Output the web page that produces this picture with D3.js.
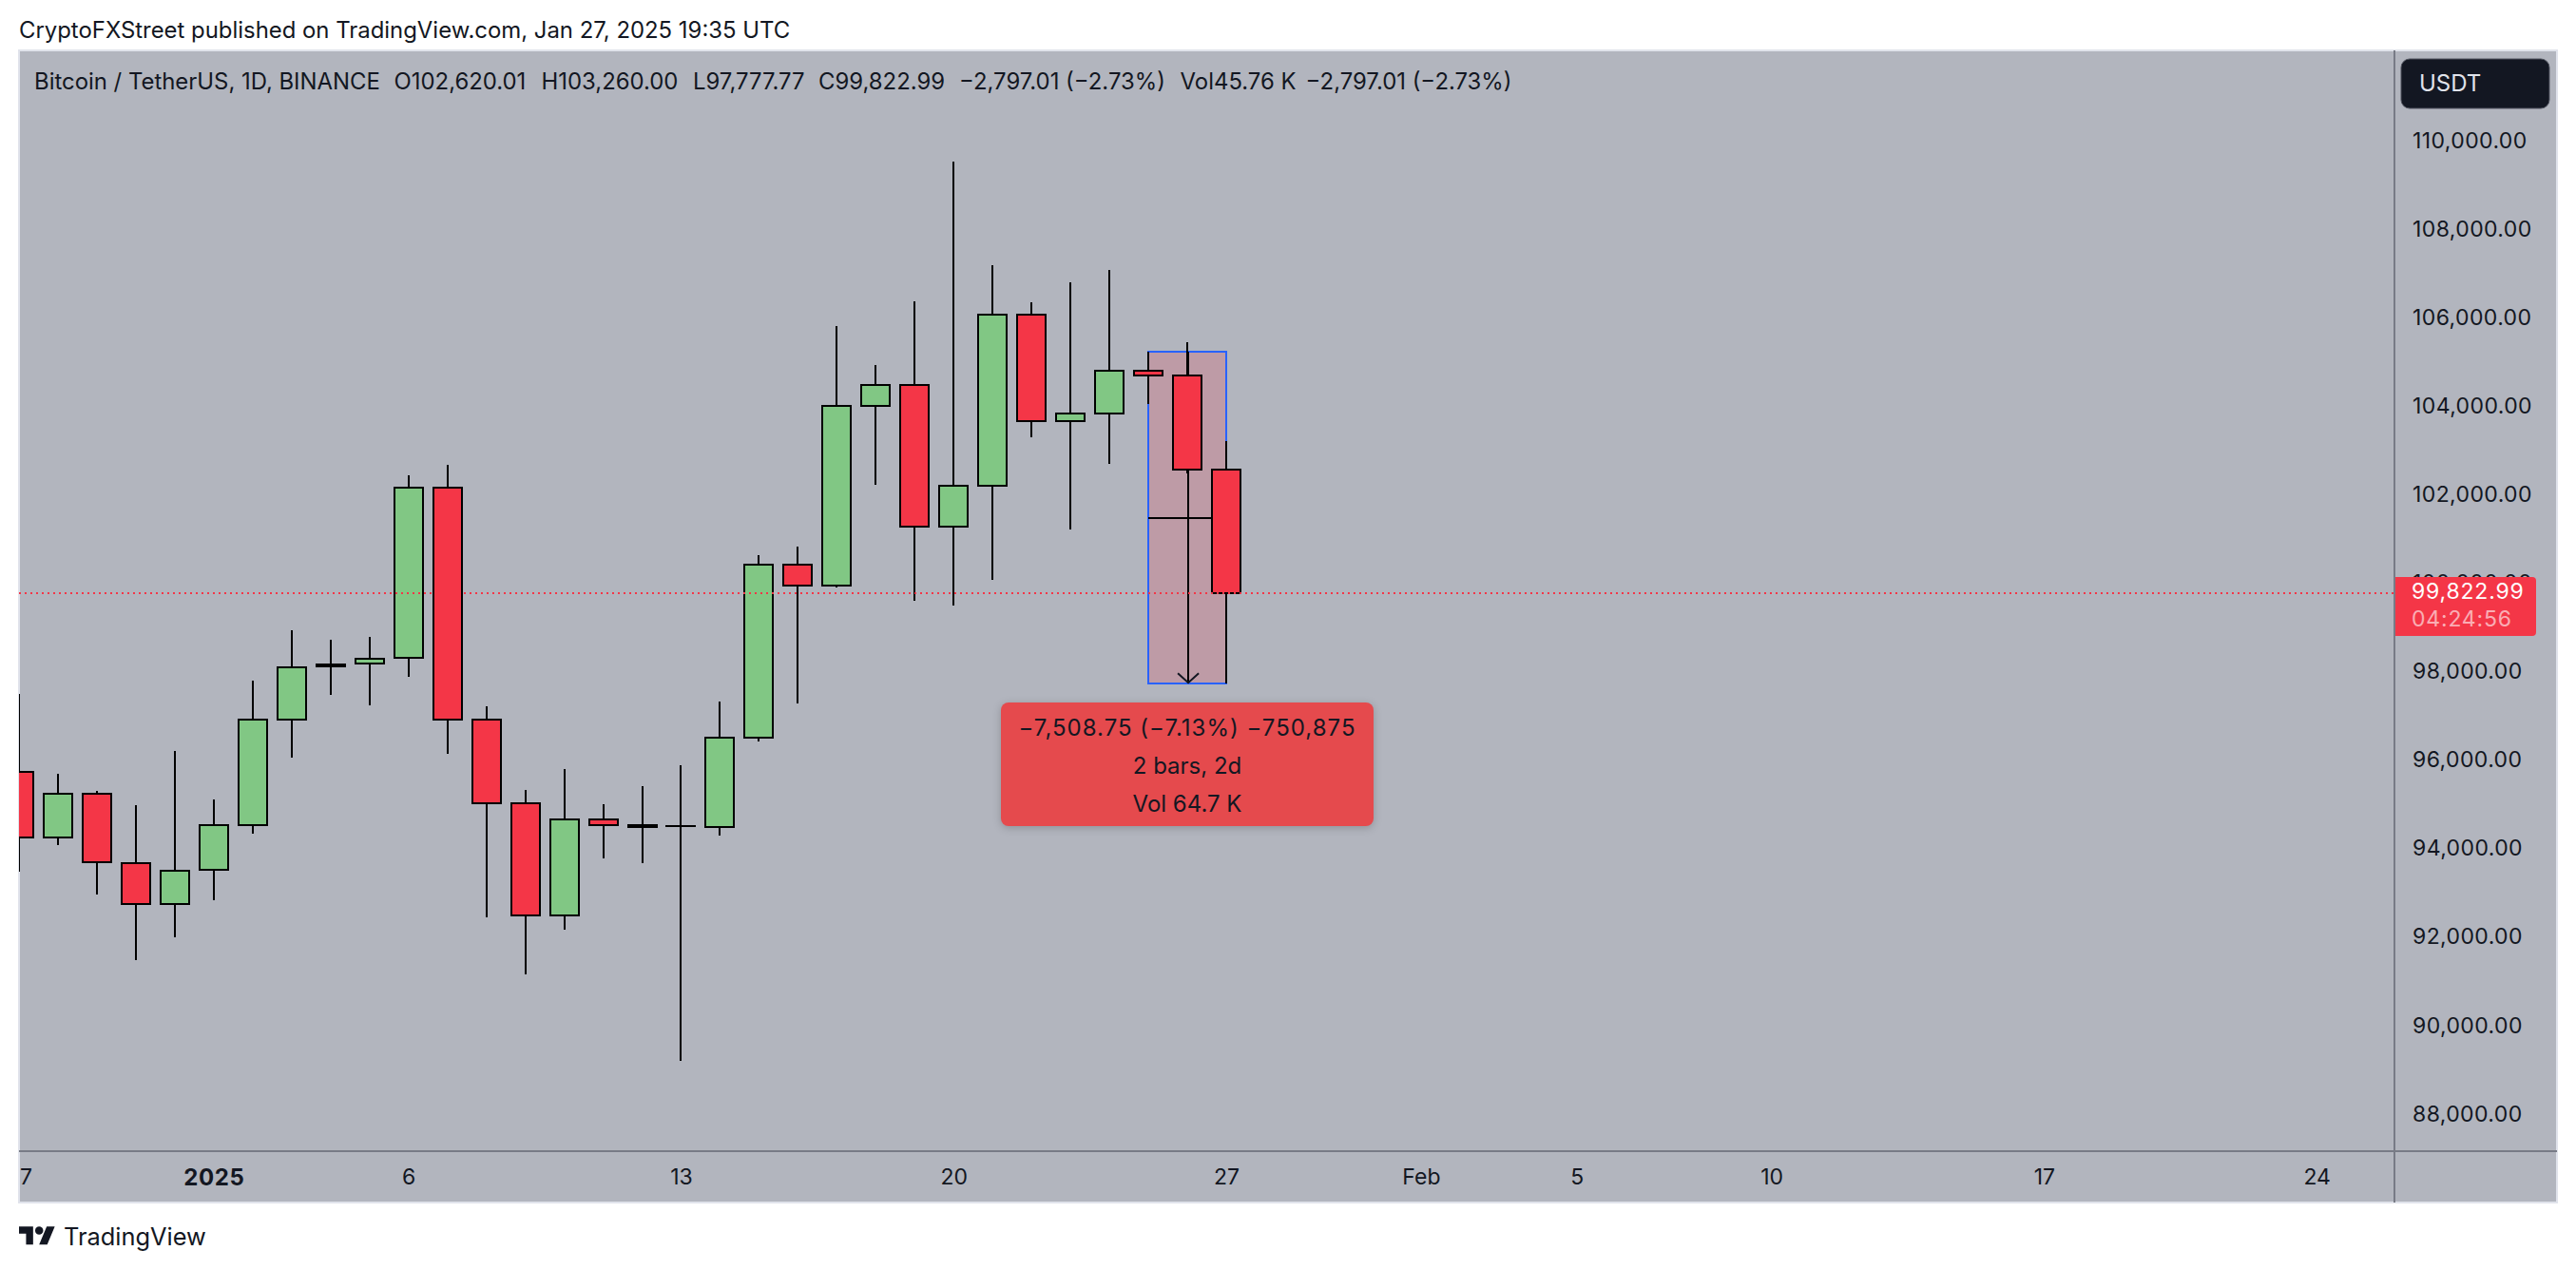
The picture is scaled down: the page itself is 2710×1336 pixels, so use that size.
<!DOCTYPE html>
<html lang="en">

<head>
    <meta charset="UTF-8">
    <title>Bitcoin / TetherUS, 1D, BINANCE</title>
    <script src="https://d3js.org/d3.v7.min.js"></script>
    <style>
        body { margin: 0; background: #fff; }
        svg { display: block; }
        text { font-family: Inter, "Noto Sans", sans-serif; fill: #131722; }
    </style>
</head>

<body>
    <div id="plot-container"></div>

    <script>
        // date, open, high, low, close
        const rows = [
            ["2024-12-27", 95791, 97547, 93528, 94302],
            ["2024-12-28", 94302, 95741, 94136, 95290],
            ["2024-12-29", 95290, 95355, 93019, 93743],
            ["2024-12-30", 93728, 95032, 91536, 92791],
            ["2024-12-31", 92791, 96257, 92052, 93556],
            ["2025-01-01", 93565, 95161, 92890, 94587],
            ["2025-01-02", 94587, 97847, 94394, 96973],
            ["2025-01-03", 96973, 98986, 96113, 98155],
            ["2025-01-04", 98180, 98771, 97531, 98202],
            ["2025-01-05", 98228, 98836, 97295, 98348],
            ["2025-01-06", 98363, 102489, 97940, 102216],
            ["2025-01-07", 102216, 102726, 96199, 96966],
            ["2025-01-08", 96966, 97267, 92503, 95069],
            ["2025-01-09", 95069, 95376, 91207, 92546],
            ["2025-01-10", 92546, 95849, 92223, 94716],
            ["2025-01-11", 94716, 95054, 93835, 94587],
            ["2025-01-12", 94545, 95462, 93728, 94570],
            ["2025-01-13", 94559, 95935, 89258, 94559],
            ["2025-01-14", 94538, 97375, 94351, 96550],
            ["2025-01-15", 96550, 100684, 96480, 100469],
            ["2025-01-16", 100469, 100877, 97338, 99996],
            ["2025-01-17", 99996, 105863, 99950, 104064],
            ["2025-01-18", 104064, 104982, 102274, 104531],
            ["2025-01-19", 104531, 106422, 99659, 101322],
            ["2025-01-20", 101322, 109581, 99552, 102242],
            ["2025-01-21", 102242, 107238, 100132, 106127],
            ["2025-01-22", 106127, 106400, 103349, 103714],
            ["2025-01-23", 103714, 106852, 101271, 103893],
            ["2025-01-24", 103893, 107131, 102753, 104860],
            ["2025-01-25", 104860, 105283, 104101, 104746],
            ["2025-01-26", 104746, 105498, 102539, 102620],
            ["2025-01-27", 102620.01, 103260, 97777.77, 99822.99]
        ];
        const candles = rows.map(r => ({ date: new Date(r[0] + "T00:00:00Z"), open: r[1], high: r[2], low: r[3], close: r[4] }));

        const lastPrice = 99822.99;
        const measure = { from: new Date("2025-01-25T00:00:00Z"), to: new Date("2025-01-27T00:00:00Z"), high: 105286.52, low: 97777.77 };

        const dayTicks = [
            ["2024-12-27", "27"], ["2025-01-01", "2025"], ["2025-01-06", "6"], ["2025-01-13", "13"],
            ["2025-01-20", "20"], ["2025-01-27", "27"], ["2025-02-01", "Feb"], ["2025-02-05", "5"],
            ["2025-02-10", "10"], ["2025-02-17", "17"], ["2025-02-24", "24"]
        ].map(d => ({ date: new Date(d[0] + "T00:00:00Z"), label: d[1] }));

        const panelL = 20, panelR = 2690, panelT = 53, panelB = 1265, axisX = 2519, axisY = 1211;

        const x = d3.scaleUtc()
            .domain([new Date("2024-12-27T00:00:00Z"), new Date("2025-02-24T00:00:00Z")])
            .range([20, 2437.2]);
        const y = d3.scaleLinear().domain([110000, 88000]).range([150.5, 1174.2]);

        const svg = d3.select("#plot-container").append("svg")
            .attr("width", 2710).attr("height", 1336);

        // panel background
        svg.append("rect").attr("x", panelL).attr("y", panelT)
            .attr("width", panelR - panelL).attr("height", panelB - panelT)
            .attr("fill", "#b2b5be").attr("stroke", "#e0e3eb").attr("stroke-width", 2);

        const defs = svg.append("defs");
        defs.append("clipPath").attr("id", "plotClip").append("rect")
            .attr("x", panelL).attr("y", panelT).attr("width", axisX - panelL).attr("height", axisY - panelT);
        defs.append("clipPath").attr("id", "timeClip").append("rect")
            .attr("x", panelL).attr("y", axisY).attr("width", axisX - panelL).attr("height", panelB - axisY);

        // header + legend
        svg.append("text").attr("x", 20).attr("y", 40).attr("font-size", 23.9).text("CryptoFXStreet published on TradingView.com, Jan 27, 2025 19:35 UTC");
        const legend = [
            [36, "Bitcoin / TetherUS, 1D, BINANCE"], [414.5, "O102,620.01"], [569.5, "H103,260.00"], [729, "L97,777.77"],
            [861, "C99,822.99"], [1009, "−2,797.01 (−2.73%)"], [1241.6, "Vol45.76 K"], [1373.6, "−2,797.01 (−2.73%)"]
        ];
        svg.selectAll(".legend").data(legend).enter().append("text")
            .attr("class", "legend").attr("x", d => d[0]).attr("y", 94).attr("font-size", 23.9).text(d => d[1]);

        const plot = svg.append("g").attr("clip-path", "url(#plotClip)");

        // measure box sits under the candles
        const boxL = x(measure.from), boxR = x(measure.to), boxT = y(measure.high), boxB = y(measure.low);
        plot.append("rect").attr("x", boxL).attr("y", boxT).attr("width", boxR - boxL).attr("height", boxB - boxT)
            .attr("fill", "#f23645").attr("fill-opacity", 0.2);
        plot.append("rect").attr("x", boxL).attr("y", boxT).attr("width", boxR - boxL).attr("height", boxB - boxT)
            .attr("fill", "none").attr("stroke", "#2962ff").attr("stroke-width", 2).attr("shape-rendering", "crispEdges");
        const midP = (measure.high + measure.low) / 2, arrowX = (boxL + boxR) / 2 + 1;
        plot.append("line").attr("x1", boxL).attr("x2", boxR).attr("y1", y(midP)).attr("y2", y(midP))
            .attr("stroke", "#000").attr("stroke-width", 2).attr("shape-rendering", "crispEdges");
        plot.append("line").attr("x1", arrowX).attr("x2", arrowX).attr("y1", boxT).attr("y2", boxB)
            .attr("stroke", "#000").attr("stroke-width", 2).attr("shape-rendering", "crispEdges");
        plot.append("path").attr("d", `M${arrowX - 11},${boxB - 11}L${arrowX},${boxB - 1}L${arrowX + 11},${boxB - 11}`)
            .attr("fill", "none").attr("stroke", "#131722").attr("stroke-width", 2);

        // candles
        const candle = plot.selectAll(".candle").data(candles).enter().append("g")
            .attr("class", "candle").attr("shape-rendering", "crispEdges");
        candle.append("line")
            .attr("x1", d => x(d.date)).attr("x2", d => x(d.date))
            .attr("y1", d => y(d.high)).attr("y2", d => y(d.low))
            .attr("stroke", "#000").attr("stroke-width", 2);
        // a zero height rect is not painted, so dojis keep a sliver of height
        candle.append("rect")
            .attr("x", d => x(d.date) - 15).attr("width", 30)
            .attr("y", d => y(Math.max(d.open, d.close)))
            .attr("height", d => Math.max(Math.abs(y(d.open) - y(d.close)), 0.1))
            .attr("fill", d => d.close >= d.open ? "#81c784" : "#f43647")
            .attr("stroke", "#000").attr("stroke-width", 2);

        // last price line
        plot.append("line").attr("x1", panelL).attr("x2", axisX).attr("y1", y(lastPrice)).attr("y2", y(lastPrice))
            .attr("stroke", "#f43647").attr("stroke-width", 2).attr("stroke-dasharray", "2 4").attr("shape-rendering", "crispEdges");

        // axes
        const priceAxis = svg.append("g").attr("transform", `translate(${axisX},0)`)
            .call(d3.axisRight(y).tickValues(d3.range(88000, 110001, 2000)).tickFormat(d3.format(",.2f")).tickSize(0).tickPadding(19));
        priceAxis.select(".domain").remove();
        priceAxis.selectAll("text").attr("font-size", 23).attr("y", -2.5).attr("letter-spacing", 0.4);

        const timeAxis = svg.append("g").attr("clip-path", "url(#timeClip)").append("g").attr("transform", `translate(0,${axisY})`)
            .call(d3.axisBottom(x).tickValues(dayTicks.map(d => d.date))
                .tickFormat((d, i) => dayTicks[i].label).tickSize(0).tickPadding(19));
        timeAxis.select(".domain").remove();
        timeAxis.selectAll("text").attr("font-size", (d, i) => dayTicks[i].label === "2025" ? 24 : 23)
            .attr("letter-spacing", (d, i) => dayTicks[i].label === "2025" ? 0.6 : 0)
            .attr("font-weight", (d, i) => dayTicks[i].label === "2025" ? 700 : 400);

        svg.append("line").attr("x1", axisX).attr("x2", axisX).attr("y1", panelT).attr("y2", panelB)
            .attr("stroke", "#787b86").attr("stroke-width", 2);
        svg.append("line").attr("x1", panelL).attr("x2", panelR).attr("y1", axisY).attr("y2", axisY)
            .attr("stroke", "#787b86").attr("stroke-width", 2);

        // USDT button
        svg.append("rect").attr("x", 2526).attr("y", 62).attr("width", 156).attr("height", 52).attr("rx", 9)
            .attr("fill", "#131722").attr("stroke", "#50535e").attr("stroke-width", 1);
        svg.append("text").attr("x", 2545).attr("y", 96).attr("font-size", 24).style("fill", "#e0e3eb").text("USDT");

        // last price tag
        svg.append("path").attr("d", "M2520,607H2664a4,4 0 0 1 4,4V665a4,4 0 0 1 -4,4H2520Z").attr("fill", "#f43647");
        svg.append("text").attr("x", 2537).attr("y", 630).attr("font-size", 23).attr("letter-spacing", 0.8).style("fill", "#fff")
            .text(d3.format(",.2f")(lastPrice));
        svg.append("text").attr("x", 2537).attr("y", 659).attr("font-size", 23).attr("letter-spacing", 0.8).style("fill", "#fff")
            .style("fill-opacity", 0.6).text("04:24:56");

        // measure label
        svg.append("rect").attr("x", 1053).attr("y", 739).attr("width", 392).attr("height", 130).attr("rx", 8)
            .attr("fill", "#e54a4d").style("filter", "drop-shadow(0 2px 4px rgba(0,0,0,0.2))");
        svg.selectAll(".mlabel").data([[765, "−7,508.75 (−7.13%) −750,875", 1], [805, "2 bars, 2d", 0], [845, "Vol 64.7 K", 0]]).enter()
            .append("text").attr("class", "mlabel").attr("x", 1249).attr("y", d => d[0] + 8.5).attr("text-anchor", "middle")
            .attr("font-size", 24).attr("letter-spacing", d => d[2]).text(d => d[1]);

        // footer logo
        const logo = svg.append("g").attr("transform", "translate(20,1286) scale(1.06)").attr("fill", "#131722");
        logo.append("path").attr("d", "M14 22H7V11H0V4h14v18zM28 22h-8l7.5-18h8L28 22z");
        logo.append("circle").attr("cx", 20).attr("cy", 8).attr("r", 4);
        svg.append("text").attr("x", 67).attr("y", 1310).attr("font-size", 25.4).text("TradingView");
    </script>
</body>

</html>
